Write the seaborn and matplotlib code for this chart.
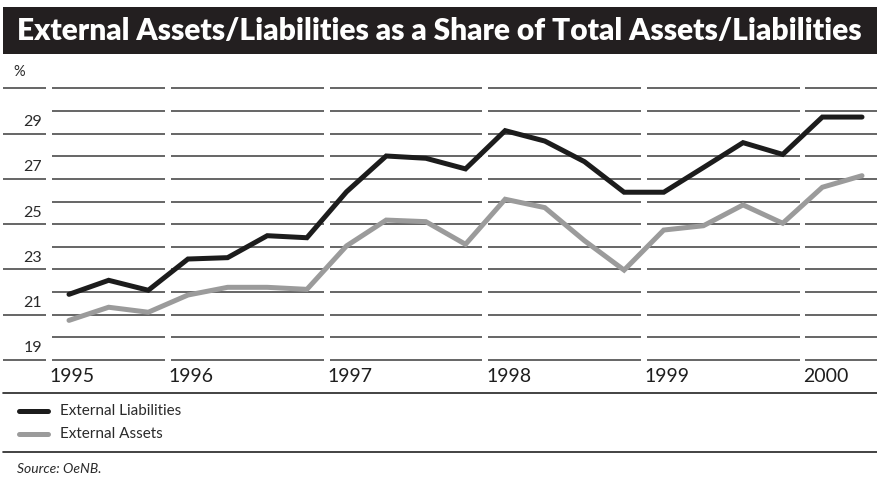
import matplotlib
matplotlib.use("Agg")
import matplotlib.pyplot as plt
import seaborn as sns
import pandas as pd
import numpy as np
from matplotlib.lines import Line2D
from matplotlib.patches import Rectangle

# ---- data (quarterly, 1995 Q2 .. 2000 Q2) ----
quarters = ["1995Q2", "1995Q3", "1995Q4",
            "1996Q1", "1996Q2", "1996Q3", "1996Q4",
            "1997Q1", "1997Q2", "1997Q3", "1997Q4",
            "1998Q1", "1998Q2", "1998Q3", "1998Q4",
            "1999Q1", "1999Q2", "1999Q3", "1999Q4",
            "2000Q1", "2000Q2"]
liabilities = [21.90, 22.52, 22.08, 23.46, 23.52, 24.49, 24.40,
               26.43, 28.01, 27.91, 27.44, 29.13, 28.67, 27.76,
               26.41, 26.41, 27.50, 28.60, 28.08, 29.73, 29.73]
assets = [20.75, 21.33, 21.11, 21.87, 22.21, 22.21, 22.12,
          24.04, 25.18, 25.11, 24.11, 26.10, 25.73, 24.27,
          22.97, 24.74, 24.93, 25.85, 25.04, 26.63, 27.14]
year_labels = ["1995", "1996", "1997", "1998", "1999", "2000"]
y_labels = [19, 21, 23, 25, 27, 29]
series_names = ["External Liabilities", "External Assets"]
title = "External Assets/Liabilities as a Share of Total Assets/Liabilities"
source = "Source: OeNB."

sns.set_style("white")
plt.rcParams['font.family'] = ['Lato', 'DejaVu Sans']

W, H = 877, 483
fig = plt.figure(figsize=(W / 100, H / 100), dpi=100)

def fy(py):
    return 1 - py / H

def fx(px):
    return px / W

# axes geometry
step = 39.65
x0 = 69.0
ylo, yhi = 18.5, 31.5
py_lo = 360 + 0.5 * 22.64
py_hi = 88.3 - 0.5 * 22.64
ax = fig.add_axes([0, fy(py_lo), 1, (py_lo - py_hi) / H])
ax.set_xlim(-x0 / step, (W - x0) / step)
ax.set_ylim(ylo, yhi)
ax.axis("off")

n = len(quarters)
idx = np.arange(n)
df = pd.DataFrame({
    "i": np.concatenate([idx, idx]),
    "value": liabilities + assets,
    "series": [series_names[0]] * n + [series_names[1]] * n,
})

# gridlines with breaks at year boundaries
first_q = [0, 3, 7, 11, 15, 19]
bounds = [q - 0.5 for q in first_q]
gap = 0.075
xmin_ax, xmax_ax = ax.get_xlim()
segs = []
left_col = ((3 - x0) / step, bounds[0] - gap)
edges = bounds + [xmax_ax + 1]
for k in range(len(bounds)):
    segs.append((bounds[k] + gap, edges[k + 1] - gap))
grid_col = "#3c3c3c"
for v in range(19, 32):
    for a, b in segs:
        ax.hlines(v, a, b, color=grid_col, lw=1.1, zorder=1, clip_on=False)
    if v % 2 == 1:
        ax.hlines(v, left_col[0], left_col[1], color=grid_col, lw=1.1, zorder=1, clip_on=False)

palette = {series_names[0]: "#1c1c1c", series_names[1]: "#9b9b9b"}
sns.lineplot(data=df, x="i", y="value", hue="series", palette=palette,
             linewidth=3.6, legend=False, ax=ax, zorder=3,
             solid_capstyle="round", solid_joinstyle="miter")

txt_col = "#2a2a2a"
# y labels (sit above their line)
for v in y_labels:
    ax.text((42 - x0) / step, v + 0.2, str(v), ha="right", va="bottom",
            fontsize=11.5, color=txt_col)
fig.text(fx(13), fy(72), "%", ha="left", va="center", fontsize=10.5,
         color=txt_col)

# year labels
for b, lab in zip(bounds, year_labels):
    ax.text(b + 0.02, 18.65, lab, ha="left", va="top", fontsize=14,
            color="#1e1e1e")

# title bar
fig.patches.append(Rectangle((fx(3), fy(54)), 1 - fx(3), (54 - 7) / H,
                             transform=fig.transFigure, facecolor="#231f20",
                             edgecolor="none", zorder=0))
fig.text(fx(439), fy(31), title, ha="center", va="center", color="white",
         fontsize=21.5, fontweight="heavy")

# separators
for py in (393, 452):
    fig.add_artist(Line2D([fx(3), 1], [fy(py), fy(py)], color="#222222", lw=1.2))

# legend
for py, name in zip((411, 434), series_names):
    fig.add_artist(Line2D([fx(19), fx(48)], [fy(py), fy(py)], color=palette[name],
                          lw=3.6, solid_capstyle="round"))
    fig.text(fx(60), fy(py), name, ha="left", va="center", fontsize=11,
             color=txt_col)

fig.text(fx(17), fy(469), source, ha="left", va="center", fontsize=10,
         color=txt_col, style="italic")

fig.savefig("out.png", dpi=100)
